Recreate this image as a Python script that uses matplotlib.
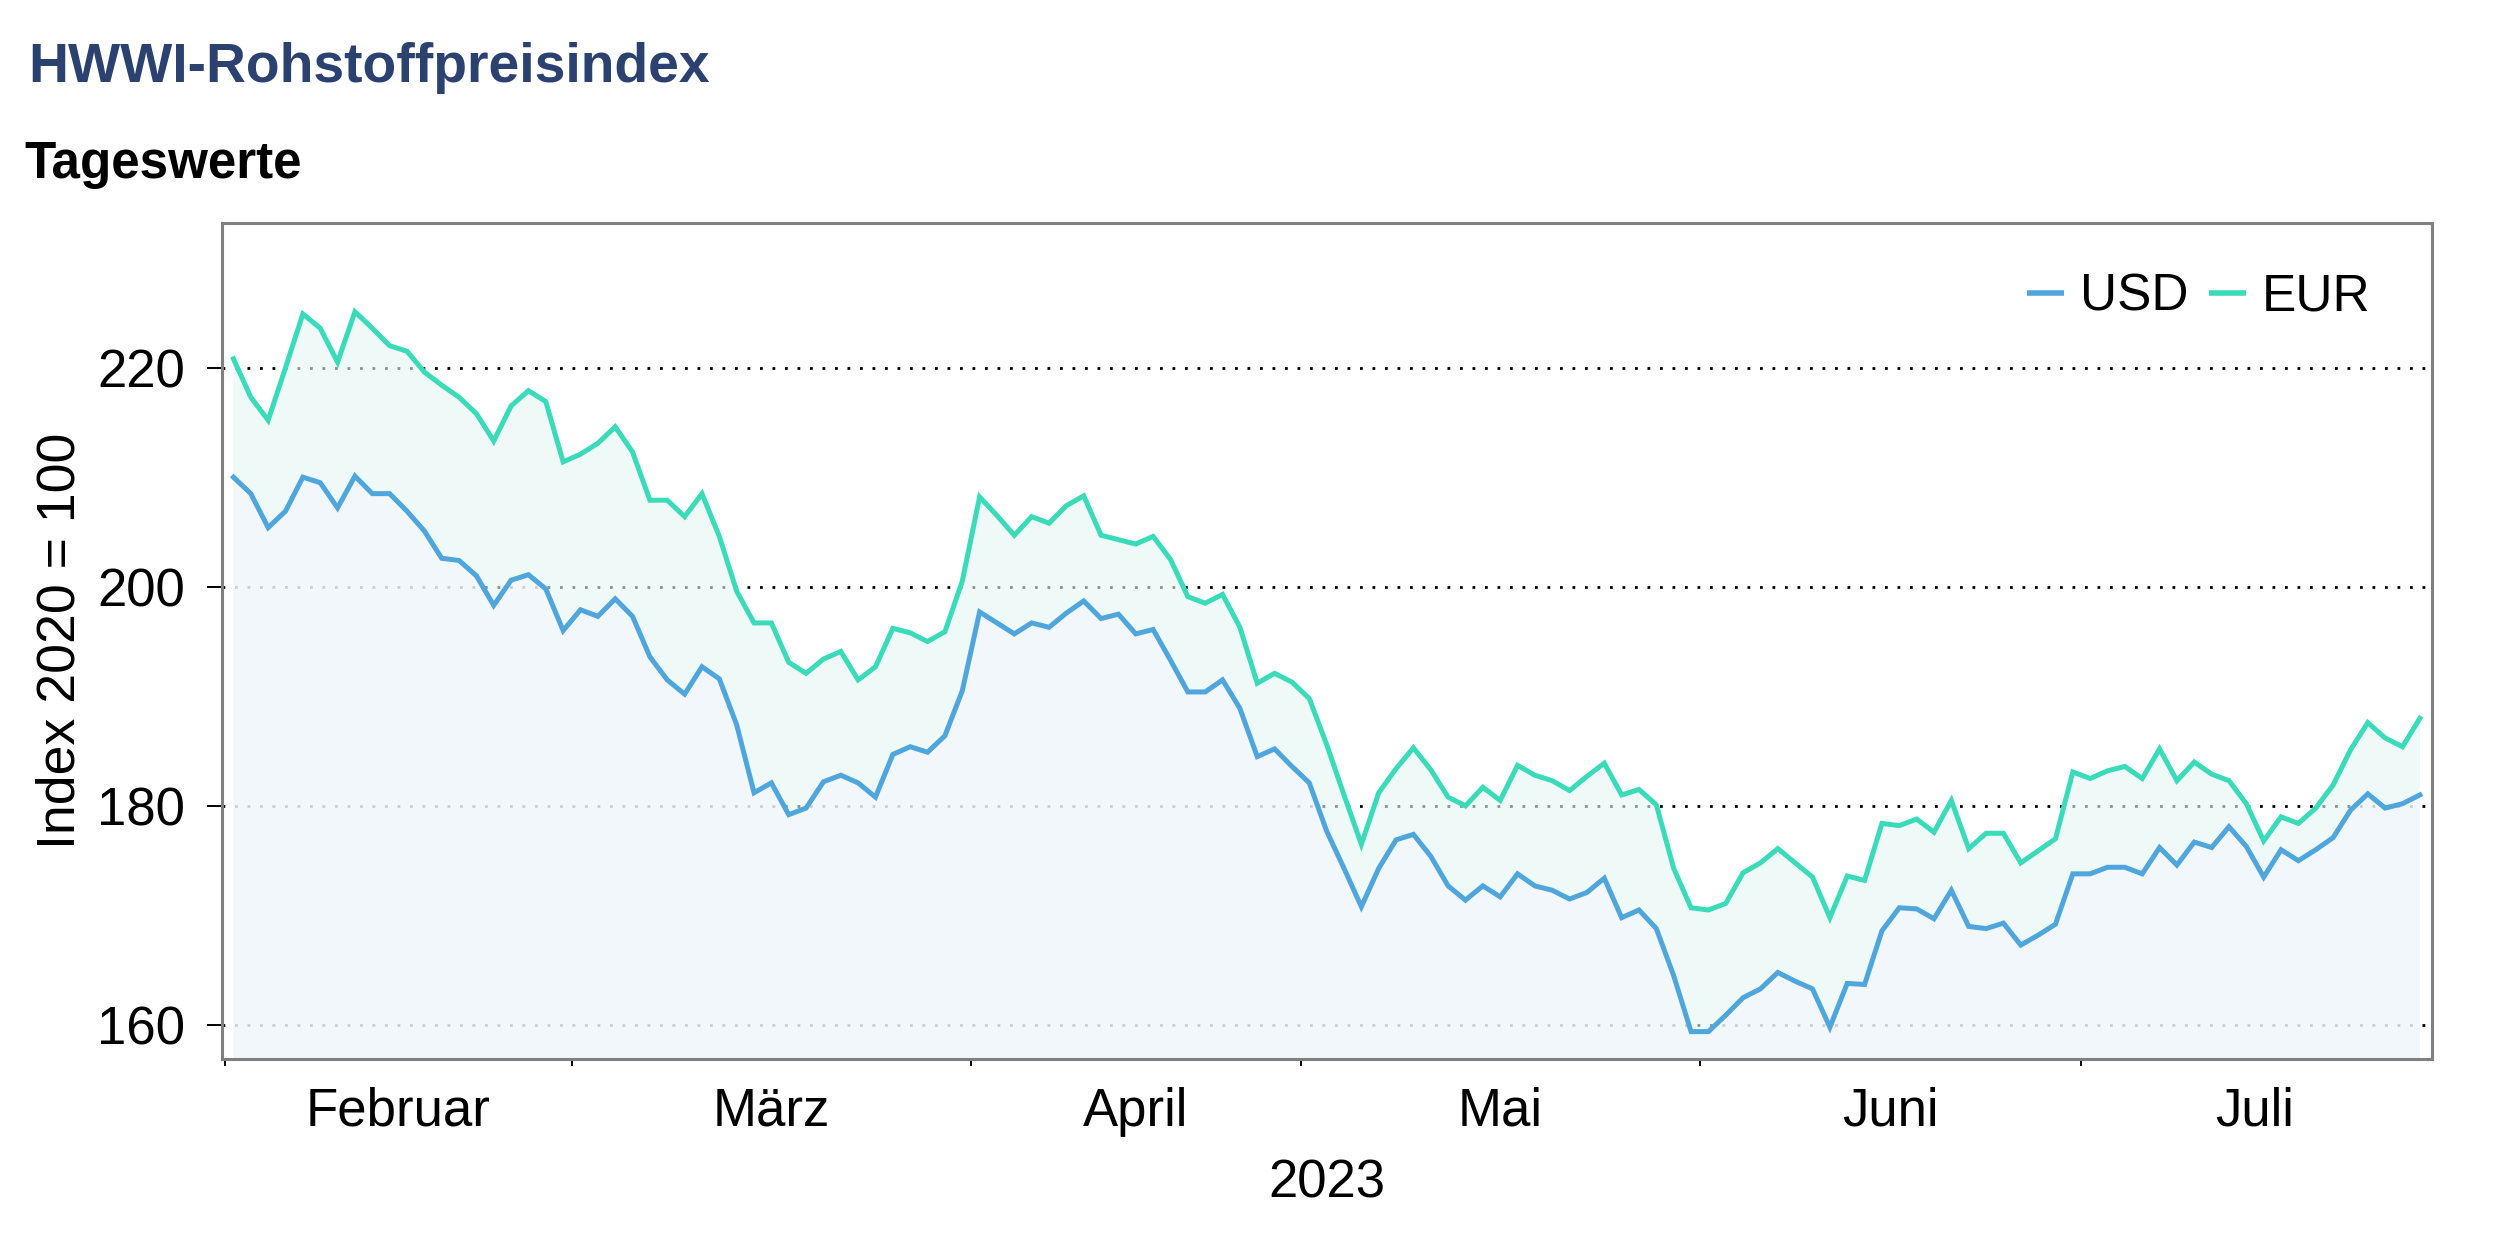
import matplotlib
matplotlib.use("Agg")
import matplotlib.pyplot as plt
import numpy as np

plt.rcParams['font.family'] = ['Liberation Sans', 'DejaVu Sans']

title = "HWWI-Rohstoffpreisindex"
subtitle = "Tageswerte"
ylabel = "Index 2020 = 100"
xlabel = "2023"
months = ["Februar", "März", "April", "Mai", "Juni", "Juli"]
month_days = [20, 23, 19, 23, 22, 20]   # Handelstage je Monat
yticks = [160, 180, 200, 220]

usd = [210.0, 208.5, 205.4, 206.9, 210.0, 209.5, 207.2, 210.1, 208.5, 208.5,
       206.9, 205.1, 202.6, 202.4, 201.0, 198.3, 200.6, 201.1, 199.8, 196.0,
       197.9, 197.3, 198.9, 197.3, 193.6, 191.5, 190.2, 192.7, 191.6, 187.4,
       181.2, 182.1, 179.2, 179.8, 182.2, 182.8, 182.1, 180.8, 184.7, 185.4,
       184.9, 186.4, 190.5, 197.7, 196.7, 195.7, 196.7, 196.3, 197.6, 198.7,
       197.1, 197.5, 195.7, 196.1, 193.3, 190.4, 190.4, 191.5, 188.9, 184.5,
       185.2, 183.6, 182.1, 177.7, 174.3, 170.8, 174.3, 176.9, 177.4, 175.4,
       172.7, 171.4, 172.7, 171.7, 173.8, 172.7, 172.3, 171.5, 172.1, 173.4,
       169.8, 170.5, 168.8, 164.5, 159.4, 159.4, 160.9, 162.5, 163.3, 164.8,
       164.0, 163.3, 159.8, 163.8, 163.7, 168.6, 170.7, 170.6, 169.7, 172.3,
       169.0, 168.8, 169.3, 167.3, 168.2, 169.2, 173.8, 173.8, 174.4, 174.4,
       173.8, 176.2, 174.6, 176.7, 176.2, 178.1, 176.3, 173.5, 176.0, 175.0,
       176.0, 177.1, 179.6, 181.1, 179.8, 180.2, 181.0]

eur = [220.8, 217.3, 215.2, 220.0, 224.9, 223.6, 220.5, 225.1, 223.6, 222.0,
       221.5, 219.6, 218.4, 217.3, 215.8, 213.3, 216.5, 217.9, 216.9, 211.4,
       212.1, 213.1, 214.6, 212.3, 207.9, 207.9, 206.4, 208.5, 204.6, 199.6,
       196.7, 196.7, 193.1, 192.1, 193.4, 194.1, 191.5, 192.7, 196.2, 195.8,
       195.0, 195.9, 200.5, 208.2, 206.5, 204.7, 206.4, 205.8, 207.4, 208.3,
       204.7, 204.3, 203.9, 204.6, 202.5, 199.1, 198.5, 199.3, 196.3, 191.2,
       192.1, 191.3, 189.8, 185.6, 181.0, 176.5, 181.2, 183.4, 185.3, 183.3,
       180.8, 180.0, 181.7, 180.5, 183.7, 182.8, 182.3, 181.4, 182.7, 183.9,
       181.0, 181.5, 180.1, 174.3, 170.7, 170.5, 171.1, 173.9, 174.8, 176.1,
       174.8, 173.5, 169.8, 173.6, 173.2, 178.4, 178.2, 178.8, 177.6, 180.5,
       176.1, 177.5, 177.5, 174.8, 175.9, 177.0, 183.1, 182.5, 183.2, 183.6,
       182.5, 185.2, 182.3, 184.0, 182.9, 182.3, 180.2, 176.8, 179.0, 178.4,
       179.8, 181.9, 185.1, 187.6, 186.2, 185.4, 188.0]

c_usd = "#4FA6DD"
c_eur = "#3ADBB8"

fig = plt.figure(figsize=(12.5, 6.25), dpi=200)
ax = fig.add_axes([0.0888, 0.1528, 0.9728 - 0.0888, 0.8216 - 0.1528])

x = np.arange(len(usd))

ax.fill_between(x, 0, eur, color="#E4F6F4", alpha=0.6, lw=0, zorder=2)
ax.fill_between(x, 0, usd, color="#F4F6FD", alpha=0.6, lw=0, zorder=2)
ax.plot(x, usd, color=c_usd, lw=1.8, label="USD", zorder=4, solid_joinstyle='miter')
ax.plot(x, eur, color=c_eur, lw=1.8, label="EUR", zorder=4, solid_joinstyle='miter')

ax.set_ylim(156.9, 233.2)
ax.set_xlim(-0.66, len(usd) - 1 + 0.7)
ax.set_yticks(yticks)
ax.yaxis.grid(True, color="black", lw=1.0, linestyle=(0, (1, 3.5)), zorder=1)
ax.set_axisbelow(True)

bounds = np.concatenate([[0], np.cumsum(month_days)])
ax.set_xticks(bounds[:-1] - 0.5)
ax.set_xticklabels([])
centers = (bounds[:-1] + bounds[1:] - 1) / 2.0
ax.set_xticks(centers, minor=True)
ax.set_xticklabels(months, minor=True)
ax.tick_params(axis='x', which='major', length=2.5, width=0.7, color='black', direction='out')
ax.tick_params(axis='x', which='minor', length=0, pad=10, labelsize=19)
ax.tick_params(axis='y', length=5.4, width=0.7, color='black', pad=8, labelsize=19)

for s in ax.spines.values():
    s.set_color("#808080")
    s.set_linewidth(1.1)

ax.set_xlabel(xlabel, fontsize=19, labelpad=8)
ax.set_ylabel(ylabel, fontsize=19.3, labelpad=4)

leg = ax.legend(loc='center right', bbox_to_anchor=(0.948, 0.7624), bbox_transform=fig.transFigure,
                ncol=2, frameon=False, fontsize=18.5, handlelength=0.72, handletextpad=0.3,
                columnspacing=0.4, borderpad=0, borderaxespad=0)
for ln in leg.get_lines():
    ln.set_solid_capstyle('butt')
    ln.set_linewidth(2.0)

fig.text(0.0112, 1 - 82 / 1250, title, fontsize=19.9, fontweight='bold', color="#2B4170",
         va='baseline', ha='left')
fig.text(0.0096, 1 - 178 / 1250, subtitle, fontsize=18.4, fontweight='bold', color="black",
         va='baseline', ha='left')

fig.savefig("out.png", dpi=200, facecolor="white")
